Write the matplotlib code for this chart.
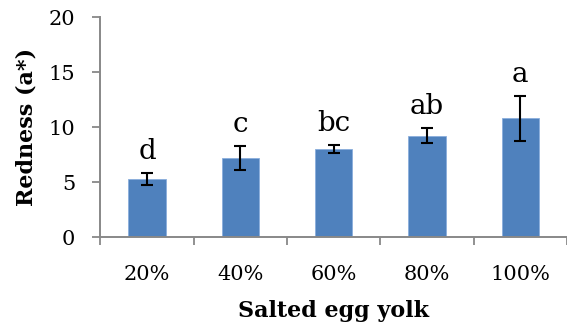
import matplotlib
matplotlib.use("Agg")
import matplotlib.pyplot as plt
import numpy as np

# Data
categories = ["20%", "40%", "60%", "80%", "100%"]
redness = [5.3, 7.2, 8.0, 9.2, 10.8]
errors = [0.55, 1.1, 0.37, 0.69, 2.03]
letters = ["d", "c", "bc", "ab", "a"]

plt.rcParams["font.family"] = "DejaVu Serif"

fig = plt.figure(figsize=(5.67, 3.29), dpi=100)
ax = fig.add_axes([0.1772, 0.2796, 0.8228, 0.6687])

x = np.arange(len(categories))
ax.bar(x, redness, width=0.4, color="#4F81BD", edgecolor="#8AAEDC", linewidth=0.6, zorder=2)
ax.errorbar(x, redness, yerr=errors, fmt="none", ecolor="black",
            elinewidth=1.5, capsize=4.3, capthick=1.5, zorder=3)

# significance letters above error bars
for xi, v, e, lab in zip(x, redness, errors, letters):
    ax.text(xi, v + e + 1.25, lab, ha="center", va="baseline", fontsize=20)

ax.set_xlim(-0.5, 4.47)
ax.set_ylim(0, 20)
ax.set_yticks([0, 5, 10, 15, 20])
ax.set_xticks(x)
ax.set_xticklabels(categories, fontsize=15)
ax.set_xticks(np.arange(-0.5, 5, 1), minor=True)
ax.tick_params(axis="x", which="major", length=0, pad=20)
ax.tick_params(axis="x", which="minor", length=6, width=1.3, color="#888888")
ax.tick_params(axis="y", length=6, width=1.3, color="#888888", labelsize=15, pad=12)

for s in ["top", "right"]:
    ax.spines[s].set_visible(False)
for s in ["left", "bottom"]:
    ax.spines[s].set_color("#888888")
    ax.spines[s].set_linewidth(1.4)

ax.set_xlabel("Salted egg yolk", fontsize=16, fontweight="bold", labelpad=12)
ax.set_ylabel("Redness (a*)", fontsize=16, fontweight="bold", labelpad=8)

fig.savefig("out.png", dpi=100)
